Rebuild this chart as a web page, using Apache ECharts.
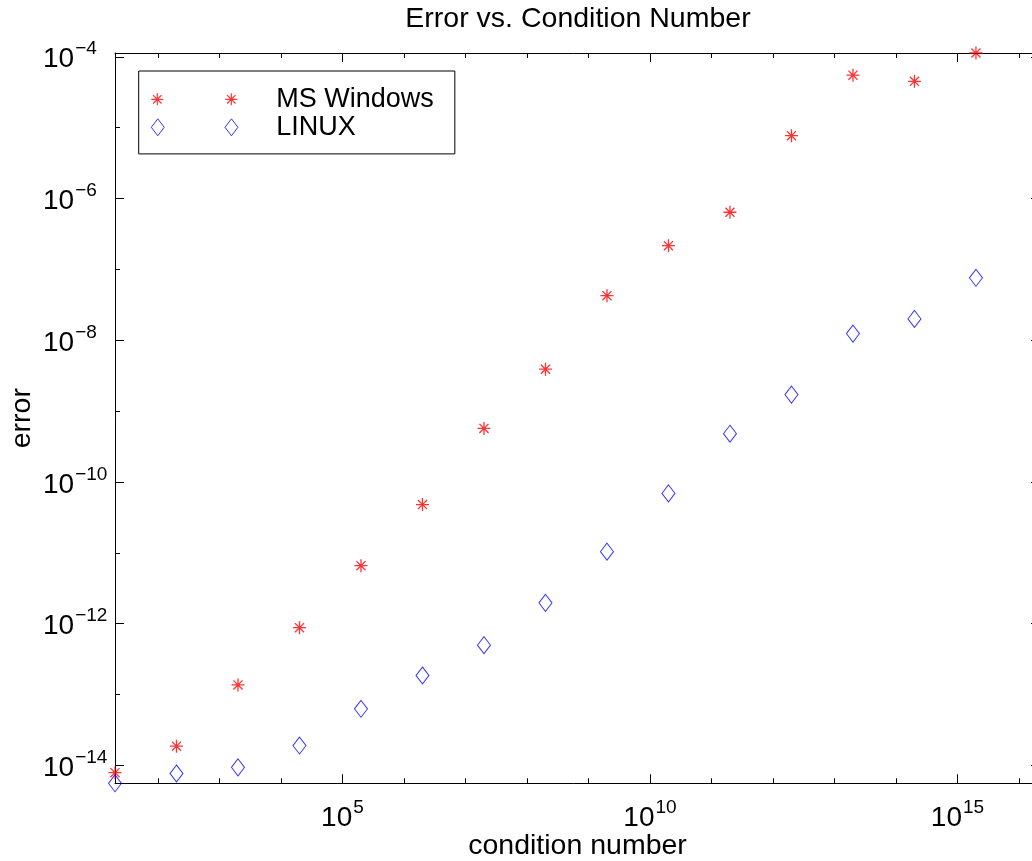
<!DOCTYPE html>
<html>
<head>
<meta charset="utf-8">
<script src="https://cdn.jsdelivr.net/npm/echarts@6/dist/echarts.min.js"></script>
<style>html,body{margin:0;padding:0;background:#fff}#c{width:1032px;height:861px}</style>
</head>
<body>
<div id="c"></div>
<script>
// ---- data ----
const conditionNumbers = [2e1, 2e2, 2e3, 2e4, 2e5, 2e6, 2e7, 2e8, 2e9, 2e10, 2e11, 2e12, 2e13, 2e14, 2e15];
const windowsError = [7.9e-15, 1.87e-14, 1.37e-13, 8.8e-13, 6.6e-12, 4.8e-11, 5.7e-10, 3.9e-9, 4.25e-8, 2.16e-7, 6.4e-7, 7.7e-6, 5.5e-5, 4.5e-5, 1.13e-4];
const linuxError = [5.6e-15, 7.7e-15, 9.4e-15, 1.91e-14, 6.3e-14, 1.86e-13, 4.98e-13, 1.97e-12, 1.04e-11, 6.9e-11, 4.8e-10, 1.71e-9, 1.24e-8, 2.0e-8, 7.6e-8];
const seriesNames = ['MS Windows', 'LINUX'];
// axis limits
const xLimits = [20, 2.2e16];
const yLimits = [5.6e-15, 1.13e-4];
// tick exponents (powers of ten)
const xLabelExponents = [5, 10, 15];
const xTickExponents = [2, 3, 4, 5, 6, 7, 8, 9, 10, 11, 12, 13, 14, 15, 16];
const yLabelExponents = [-14, -12, -10, -8, -6, -4];
const yTickExponents = [-14, -13, -12, -11, -10, -9, -8, -7, -6, -5, -4];

const FONT = '"Liberation Sans", Arial, Helvetica, sans-serif';
const STAR = 'path://M0,-6L0,6M-6,0L6,0M-4.2,-4.2L4.2,4.2M-4.2,4.2L4.2,-4.2';
const DIAMOND = 'path://M0,-8.5L6.5,0L0,8.5L-6.5,0Z';
const LEG_STAR = 'path://M0,-6L0,6M-6,0L6,0M-4.2,-4.2L4.2,4.2M-4.2,4.2L4.2,-4.2M74,-6L74,6M68,0L80,0M69.8,-4.2L78.2,4.2M69.8,4.2L78.2,-4.2M-6,0M114,0';
const LEG_DIAMOND = 'path://M0,-8.5L6.5,0L0,8.5L-6.5,0ZM74,-8.5L80.5,0L74,8.5L67.5,0ZM114,0';

const lx = [Math.log10(xLimits[0]), Math.log10(xLimits[1])];
const ly = [Math.log10(yLimits[0]), Math.log10(yLimits[1])];

function powLabel(v) {
  const e = Math.round(v);
  const s = e < 0 ? '\u2212' + Math.abs(e) : String(e);
  return '{b|10}{s|' + s + '}';
}
const rich = {
  b: { fontSize: 28, fontFamily: FONT, color: '#000', lineHeight: 34, verticalAlign: 'bottom' },
  s: { fontSize: 19, fontFamily: FONT, color: '#000', lineHeight: 14, verticalAlign: 'top', padding: [0, 0, 0, 1] }
};
const line = { show: true, onZero: false, lineStyle: { color: '#000', width: 1 } };
const noLine = { show: false, onZero: false };

function valAxis(pos, lim, ticks, len, labels, extra) {
  return Object.assign({
    type: 'value', position: pos, min: lim[0], max: lim[1], gridIndex: 0,
    axisLine: noLine,
    axisTick: { show: true, inside: true, length: len, customValues: ticks, lineStyle: { color: '#000', width: 1 } },
    axisLabel: labels ? labels : { show: false },
    splitLine: { show: false }, silent: true
  }, extra || {});
}

const xLabel = { show: true, customValues: xLabelExponents, formatter: powLabel, rich: rich, margin: 15 };
const yLabel = { show: true, customValues: yLabelExponents, formatter: powLabel, rich: rich, margin: 72, align: 'left' };

const option = {
  animation: false,
  backgroundColor: '#fff',
  title: {
    text: 'Error vs. Condition Number', left: 578, top: 5, padding: 0, textAlign: 'center',
    textStyle: { fontFamily: FONT, fontSize: 28.5, fontWeight: 'normal', color: '#000' }
  },
  grid: { left: 115, right: -8, top: 53, bottom: 77.7, containLabel: false, outerBoundsMode: 'none' },
  legend: {
    orient: 'vertical', left: 138.7, top: 71,
    padding: [14.3, 21, 12.6, 12],
    borderColor: '#000', borderWidth: 1, backgroundColor: '#fff',
    itemWidth: 120, itemHeight: 17, itemGap: 0, symbolKeepAspect: true,
    selectedMode: false,
    textStyle: { fontFamily: FONT, fontSize: 27, color: '#000', lineHeight: 28 },
    data: [
      { name: seriesNames[0], icon: LEG_STAR, itemStyle: { color: 'transparent', borderColor: '#ff0000', borderWidth: 1.2 } },
      { name: seriesNames[1], icon: LEG_DIAMOND, itemStyle: { color: 'transparent', borderColor: '#0000ff', borderWidth: 1 } }
    ]
  },
  xAxis: [
    { type: 'log', position: 'bottom', min: xLimits[0], max: xLimits[1], logBase: 10,
      axisLine: line, axisTick: { show: false }, axisLabel: { show: false }, splitLine: { show: false }, minorTick: { show: false } },
    valAxis('bottom', lx, xLabelExponents, 9, xLabel, {
      name: 'condition number', nameLocation: 'middle', nameGap: 48, nameMoveOverlap: false,
      nameTextStyle: { fontFamily: FONT, fontSize: 28.5, color: '#000' }
    }),
    valAxis('bottom', lx, xTickExponents, 5, null),
    valAxis('top', lx, xLabelExponents, 9, null, { axisLine: line }),
    valAxis('top', lx, xTickExponents, 5, null)
  ],
  yAxis: [
    { type: 'log', position: 'left', min: yLimits[0], max: yLimits[1], logBase: 10,
      axisLine: line, axisTick: { show: false }, axisLabel: { show: false }, splitLine: { show: false }, minorTick: { show: false } },
    valAxis('left', ly, yLabelExponents, 9, yLabel, {
      name: 'error', nameLocation: 'middle', nameGap: 78, nameMoveOverlap: false,
      nameTextStyle: { fontFamily: FONT, fontSize: 28.5, color: '#000' }
    }),
    valAxis('left', ly, yTickExponents, 5, null),
    valAxis('right', ly, yLabelExponents, 9, null, { axisLine: line }),
    valAxis('right', ly, yTickExponents, 5, null)
  ],
  series: [
    {
      name: seriesNames[0], type: 'scatter', xAxisIndex: 0, yAxisIndex: 0, clip: false,
      symbol: STAR, symbolSize: [13, 13], symbolKeepAspect: true,
      itemStyle: { color: 'transparent', borderColor: '#ff0000', borderWidth: 1.3 },
      emphasis: { disabled: true },
      data: conditionNumbers.map((x, i) => [x, windowsError[i]])
    },
    {
      name: seriesNames[1], type: 'scatter', xAxisIndex: 0, yAxisIndex: 0, clip: false,
      symbol: DIAMOND, symbolSize: [13, 17],
      itemStyle: { color: 'transparent', borderColor: '#0000ff', borderWidth: 1 },
      emphasis: { disabled: true },
      data: conditionNumbers.map((x, i) => [x, linuxError[i]])
    }
  ]
};
const chart = echarts.init(document.getElementById('c'), null, { renderer: 'canvas' });
chart.setOption(option);
</script>
</body>
</html>
